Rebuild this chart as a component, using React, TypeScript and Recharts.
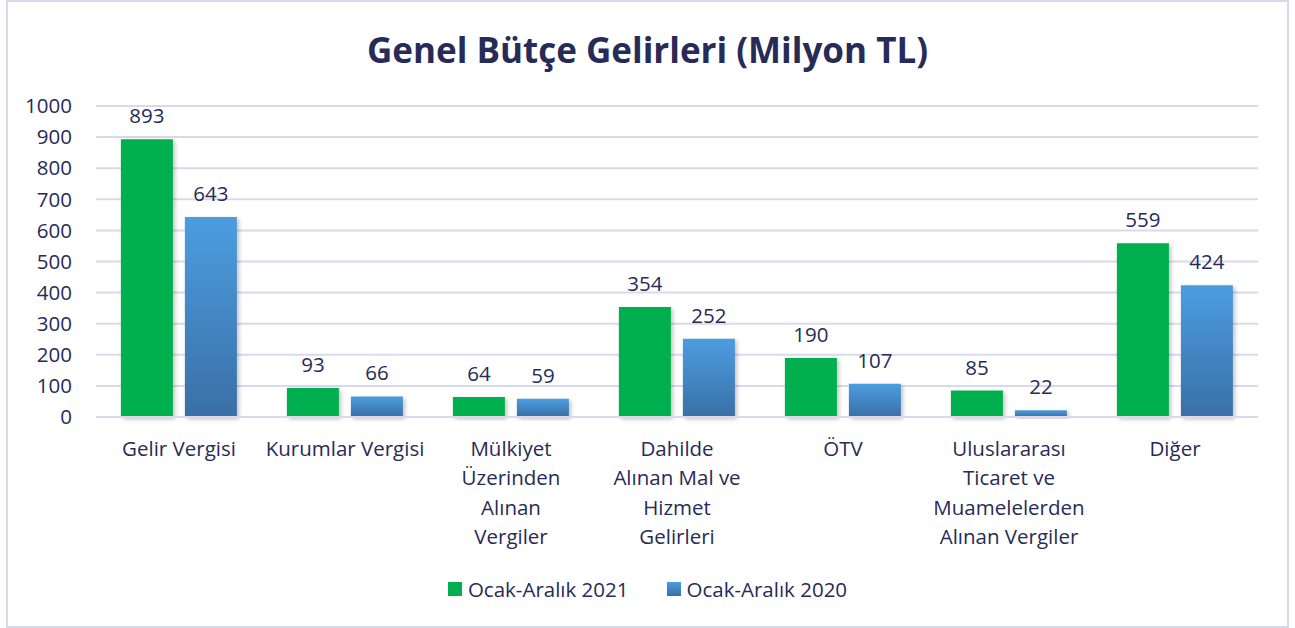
import React from "react";
import { BarChart, Bar, XAxis, YAxis, CartesianGrid, LabelList } from "recharts";

const categories = [
  "Gelir Vergisi",
  "Kurumlar Vergisi",
  "Mülkiyet Üzerinden Alınan Vergiler",
  "Dahilde Alınan Mal ve Hizmet Gelirleri",
  "ÖTV",
  "Uluslararası Ticaret ve Muamelelerden Alınan Vergiler",
  "Diğer",
];
const categoryLines = [
  ["Gelir Vergisi"],
  ["Kurumlar Vergisi"],
  ["Mülkiyet", "Üzerinden", "Alınan", "Vergiler"],
  ["Dahilde", "Alınan Mal ve", "Hizmet", "Gelirleri"],
  ["ÖTV"],
  ["Uluslararası", "Ticaret ve", "Muamelelerden", "Alınan Vergiler"],
  ["Diğer"],
];
const values2021 = [893, 93, 64, 354, 190, 85, 559];
const values2020 = [643, 66, 59, 252, 107, 22, 424];
const yTicks = [0, 100, 200, 300, 400, 500, 600, 700, 800, 900, 1000];
const seriesNames = ["Ocak-Aralık 2021", "Ocak-Aralık 2020"];
const title = "Genel Bütçe Gelirleri (Milyon TL)";

const data = categories.map((c, i) => ({
  name: c,
  v2021: values2021[i],
  v2020: values2020[i],
}));

const FONT = "'Open Sans', sans-serif";
const TEXT = "#272b57";
const GRID = "#d9d9ee";
const FS = 20.5;

const XTick = (props: any) => {
  const { x, y, payload, index } = props;
  const lines = categoryLines[index] || [payload.value];
  return (
    <g transform={`translate(${x},${y})`}>
      {lines.map((l: string, i: number) => (
        <text
          key={i}
          x={0}
          y={23 + i * 29.3}
          textAnchor="middle"
          dominantBaseline="central"
          fill={TEXT}
          fontSize={FS}
          fontFamily={FONT}
        >
          {l}
        </text>
      ))}
    </g>
  );
};

export default function App() {
  return (
    <div style={{ position: "absolute", left: 0, top: 0, width: 1295, height: 628, background: "#fff" }}>
      <div
        style={{
          position: "absolute",
          left: 6,
          top: 0,
          width: 1279,
          height: 624,
          border: `2px solid ${GRID}`,
        }}
      />
      <div
        style={{
          position: "absolute",
          left: 0,
          top: 26,
          width: 1295,
          textAlign: "center",
          fontFamily: FONT,
          fontWeight: 700,
          fontSize: 35,
          color: TEXT,
          lineHeight: "48px",
        }}
      >
        {title}
      </div>
      <div style={{ position: "absolute", left: 0, top: 0 }}>
        <BarChart
          width={1295}
          height={628}
          data={data}
          margin={{ top: 106, right: 37, bottom: 0, left: 36 }}
          barCategoryGap="15%"
          barGap={12}
        >
          <defs>
            <linearGradient id="blueGrad" x1="0" y1="0" x2="0" y2="1">
              <stop offset="0%" stopColor="#4c9de0" />
              <stop offset="100%" stopColor="#3a6fa6" />
            </linearGradient>
            <filter id="shadow" x="-20%" y="-20%" width="140%" height="140%">
              <feDropShadow dx="2" dy="2" stdDeviation="2" floodColor="#000" floodOpacity="0.25" />
            </filter>
          </defs>
          <CartesianGrid vertical={false} stroke={GRID} strokeWidth={2} />
          <XAxis
            dataKey="name"
            axisLine={{ stroke: GRID, strokeWidth: 2 }}
            tickLine={false}
            tick={<XTick />}
            interval={0}
            height={211}
          />
          <YAxis
            domain={[0, 1000]}
            ticks={yTicks}
            axisLine={false}
            tickLine={false}
            tickSize={0}
            tickMargin={24}
            width={60}
            tick={{ fill: TEXT, fontSize: FS, fontFamily: FONT }}
            interval={0}
          />
          <Bar dataKey="v2021" fill="#00b050" isAnimationActive={false} filter="url(#shadow)">
            <LabelList dataKey="v2021" position="top" offset={16} fill={TEXT} fontSize={FS} fontFamily={FONT} />
          </Bar>
          <Bar dataKey="v2020" fill="url(#blueGrad)" isAnimationActive={false} filter="url(#shadow)">
            <LabelList dataKey="v2020" position="top" offset={16} fill={TEXT} fontSize={FS} fontFamily={FONT} />
          </Bar>
        </BarChart>
      </div>
      <div
        style={{
          position: "absolute",
          left: 0,
          top: 575,
          width: 1295,
          display: "flex",
          justifyContent: "center",
          alignItems: "center",
          fontFamily: FONT,
          fontSize: FS,
          color: TEXT,
          gap: 38,
          lineHeight: "28px",
        }}
      >
        {seriesNames.map((n, i) => (
          <div key={n} style={{ display: "flex", alignItems: "center" }}>
            <div
              style={{
                width: 14,
                height: 14,
                marginRight: 6,
                background: i === 0 ? "#00b050" : "linear-gradient(#4c9de0, #3a6fa6)",
              }}
            />
            <span>{n}</span>
          </div>
        ))}
      </div>
    </div>
  );
}
